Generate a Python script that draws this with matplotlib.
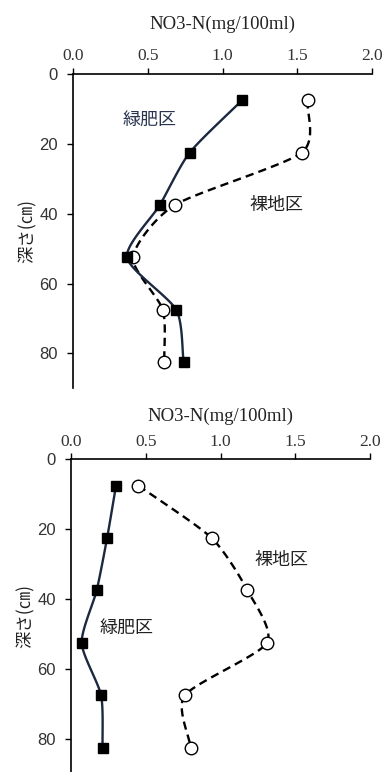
import numpy as np
import matplotlib
matplotlib.use('Agg')
import matplotlib.pyplot as plt

plt.rcParams['font.family'] = ['Noto Sans CJK JP', 'DejaVu Sans']

depth = [7.5, 22.5, 37.5, 52.5, 67.5, 82.5]

# upper panel
green_top = [1.13, 0.78, 0.58, 0.36, 0.69, 0.74]
bare_top = [1.57, 1.53, 0.68, 0.40, 0.60, 0.61]

# lower panel
green_bottom = [0.30, 0.24, 0.17, 0.07, 0.20, 0.21]
bare_bottom = [0.45, 0.94, 1.18, 1.31, 0.76, 0.80]

x_ticks = [0.0, 0.5, 1.0, 1.5, 2.0]
x_ticklabels = ['0.0', '0.5', '1.0', '1.5', '2.0']
y_ticks = [0, 20, 40, 60, 80]
x_label = 'NO3-N(mg/100ml)'
y_label = '深さ(㎝)'
green_name = '緑肥区'
bare_name = '裸地区'

NAVY = '#1c2840'


def smooth(xs, ys, n=20, tension=0.7):
    # cubic Hermite curve through the points, like Excel smoothed lines
    p = np.column_stack([xs, ys]).astype(float)
    m = np.zeros_like(p)
    m[1:-1] = (p[2:] - p[:-2]) / 2
    m[0] = p[1] - p[0]
    m[-1] = p[-1] - p[-2]
    m *= tension
    t = np.linspace(0, 1, n)[:, None]
    h00 = 2 * t ** 3 - 3 * t ** 2 + 1
    h10 = t ** 3 - 2 * t ** 2 + t
    h01 = -2 * t ** 3 + 3 * t ** 2
    h11 = t ** 3 - t ** 2
    out = [h00 * p[i] + h10 * m[i] + h01 * p[i + 1] + h11 * m[i + 1]
           for i in range(len(p) - 1)]
    out = np.vstack(out)
    return out[:, 0], out[:, 1]


def panel(ax, green, bare, ymax, xpad):
    gx, gy = smooth(green, depth)
    bx, by = smooth(bare, depth)
    ax.plot(bx, by, color='black', lw=1.7, ls=(0, (3.5, 2.2)), zorder=2)
    ax.plot(bare, depth, ls='none', marker='o', ms=9, mfc='white',
            mec='black', mew=1.0, zorder=3)
    ax.plot(gx, gy, color=NAVY, lw=1.7, zorder=4)
    ax.plot(green, depth, ls='none', marker='s', ms=7.5, mfc='black',
            mec='black', zorder=5)

    ax.set_xlim(0, 2.0)
    ax.set_ylim(ymax, 0)
    ax.xaxis.tick_top()
    ax.xaxis.set_label_position('top')
    ax.set_xticks(x_ticks)
    ax.set_xticklabels(x_ticklabels, family='Liberation Serif', fontsize=12.5,
                       color='#333333')
    ax.set_yticks(y_ticks)
    ax.set_yticklabels([str(v) for v in y_ticks], family='Liberation Sans',
                       fontsize=12, color='#333333')
    ax.tick_params(axis='x', direction='out', length=4, width=1, pad=3)
    ax.tick_params(axis='y', direction='out', length=4, width=1, pad=7)
    ax.set_xlabel(x_label, family='Liberation Serif', fontsize=13.5,
                  labelpad=xpad, color='#222222')
    ax.set_ylabel(y_label, fontsize=12.5, labelpad=2, color='#222222')
    for s in ['right', 'bottom']:
        ax.spines[s].set_visible(False)
    for s in ['top', 'left']:
        ax.spines[s].set_linewidth(1.2)


fig = plt.figure(figsize=(3.85, 7.72), dpi=100)
ax1 = fig.add_axes([0.19, 0.497, 0.776, 0.407])
ax2 = fig.add_axes([0.185, 0.0, 0.776, 0.405])

panel(ax1, green_top, bare_top, 90, 14)
panel(ax2, green_bottom, bare_bottom, 89.4, 9)

ax1.text(0.33, 13.1, green_name, fontsize=13, color='#2a3550', va='center')
ax1.text(1.18, 37.4, bare_name, fontsize=13, color='#222222', va='center')
ax2.text(0.19, 48.3, green_name, fontsize=13, color='#222222', va='center')
ax2.text(1.23, 28.9, bare_name, fontsize=13, color='#222222', va='center')

fig.savefig('out.png', dpi=100)
